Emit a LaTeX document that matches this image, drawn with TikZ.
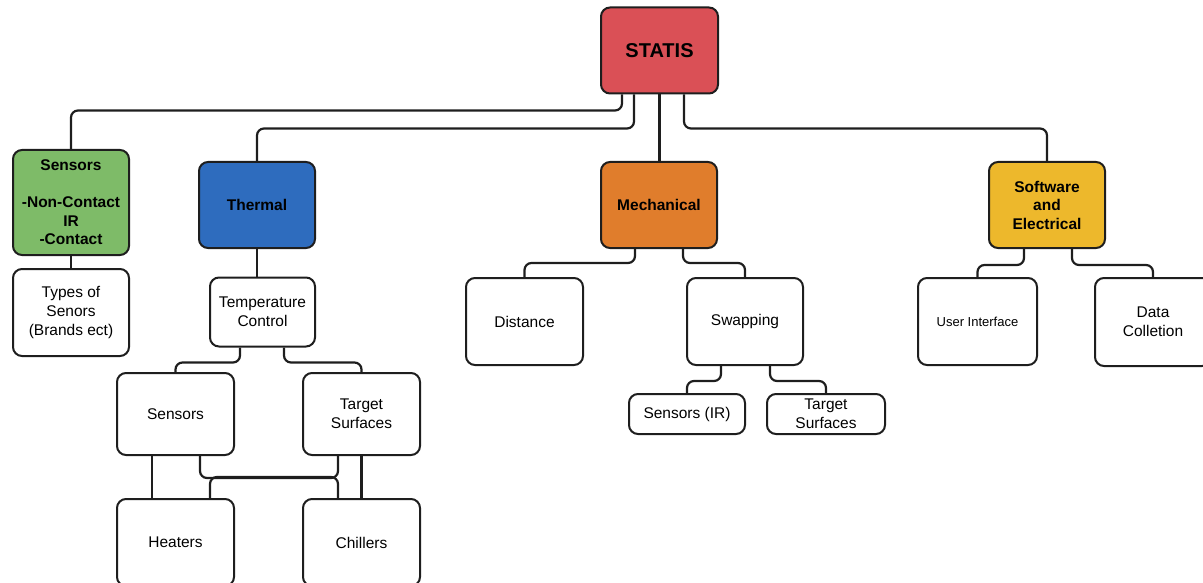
\documentclass[tikz,border=0pt]{standalone}
\usepackage{fontspec}
\setmainfont{Liberation Sans}
\usetikzlibrary{backgrounds}
\definecolor{cred}{RGB}{218,80,86}
\definecolor{cgreen}{RGB}{126,187,104}
\definecolor{cblue}{RGB}{46,108,190}
\definecolor{corange}{RGB}{224,125,44}
\definecolor{cyellow}{RGB}{237,184,44}
\definecolor{cline}{RGB}{30,30,30}
\tikzset{
  box/.style={draw=cline, line width=2pt, rounded corners=9pt, fill=white,
    align=center, inner sep=0pt, font=\fontsize{15.5}{19}\selectfont},
  bbox/.style={box, font=\fontsize{15.5}{18.5}\selectfont\bfseries},
  conn/.style={draw=cline, line width=2.2pt, rounded corners=7pt},
}
\begin{document}
\begin{tikzpicture}[x=1pt,y=-1pt]
\useasboundingbox (0,0) rectangle (1203,583);
\clip (0,0) rectangle (1203,583);
\path
  (659.5,50.5) node[bbox, fill=cred, minimum width=117, minimum height=86, font=\fontsize{20}{22}\selectfont\bfseries] (statis) {STATIS}
  (71,202.5) node[bbox, fill=cgreen, minimum width=116, minimum height=105] (sens) {Sensors\\[18.5pt]-Non-Contact\\IR\\-Contact}
  (257,205) node[bbox, fill=cblue, minimum width=116, minimum height=86] (therm) {Thermal}
  (659,205) node[bbox, fill=corange, minimum width=116, minimum height=86] (mech) {Mechanical}
  (1047,205) node[bbox, fill=cyellow, minimum width=116, minimum height=86] (soft) {Software\\and\\Electrical}
  (71,312.5) node[box, minimum width=116, minimum height=87] (types) {Types of\\Senors\\(Brands ect)}
  (262.5,312) node[box, minimum width=105, minimum height=69] (tc) {Temperature\\Control}
  (175.5,414) node[box, minimum width=117, minimum height=82] (s2) {Sensors}
  (361.5,414) node[box, minimum width=117, minimum height=82] (tgt) {Target\\Surfaces}
  (175.5,542.5) node[box, minimum width=117, minimum height=87] (heat) {Heaters}
  (361.5,542.5) node[box, minimum width=117, minimum height=87] (chill) {Chillers}
  (524.5,321.5) node[box, minimum width=117, minimum height=87] (dist) {Distance}
  (745,321.5) node[box, minimum width=116, minimum height=87] (swap) {Swapping}
  (687,414) node[box, minimum width=116, minimum height=40] (sir) {Sensors (IR)}
  (826,414) node[box, minimum width=118, minimum height=40] (tgt2) {Target\\Surfaces}
  (977.5,321.5) node[box, minimum width=119, minimum height=87, font=\fontsize{13}{16}\selectfont] (ui) {User Interface}
  (1153,322) node[box, minimum width=116, minimum height=88] (data) {Data\\Colletion};
\begin{scope}[on background layer]
\draw[conn] ([xshift=-37.5pt]statis.south) -- ++(0,16) -| (sens.north);
\draw[conn] ([xshift=-25.5pt]statis.south) -- ++(0,34) -| (therm.north);
\draw[conn] (statis.south) -- (statis.south |- mech.north);
\draw[conn] ([xshift=24.5pt]statis.south) -- ++(0,34) -| (soft.north);
\draw[conn] (sens.south) -- (types.north);
\draw[conn] (therm.south) -- (therm.south |- tc.north);
\draw[conn] ([xshift=-22.5pt]tc.south) -- ++(0,15) -| (s2.north);
\draw[conn] ([xshift=21.5pt]tc.south) -- ++(0,15) -| (tgt.north);
\draw[conn] ([xshift=-23.5pt]s2.south) -- ([xshift=-23.5pt]heat.north);
\draw[conn] ([xshift=24.5pt]s2.south) -- ++(0,22) -| ([xshift=-23.5pt]tgt.south);
\draw[conn] ([xshift=34.5pt]heat.north) -- ++(0,-21) -| ([xshift=-23.5pt]chill.north);
\draw[conn] (tgt.south) -- (chill.north);
\draw[conn] ([xshift=-24pt]mech.south) -- ++(0,14) -| (dist.north);
\draw[conn] ([xshift=24pt]mech.south) -- ++(0,14) -| (swap.north);
\draw[conn] ([xshift=-24pt]swap.south) -- ++(0,15) -| (sir.north);
\draw[conn] ([xshift=25pt]swap.south) -- ++(0,15) -| (tgt2.north);
\draw[conn] ([xshift=-23pt]soft.south) -- ++(0,16) -| (ui.north);
\draw[conn] ([xshift=25pt]soft.south) -- ++(0,16) -| (data.north);
\end{scope}
\end{tikzpicture}
\end{document}
